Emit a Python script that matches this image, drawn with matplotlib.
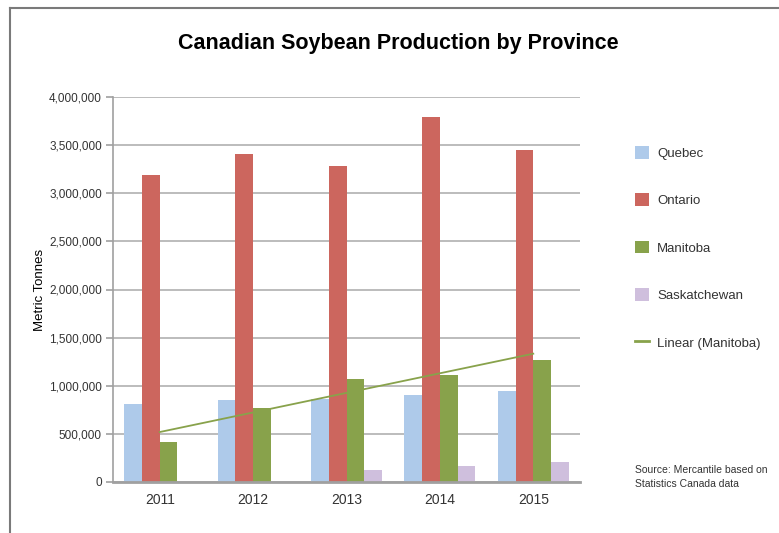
import numpy as np
import matplotlib
matplotlib.use("Agg")
from matplotlib import pyplot as plt
from matplotlib.lines import Line2D
from matplotlib.patches import Patch
from matplotlib.ticker import FuncFormatter

plt.rcParams['font.family'] = ['Liberation Sans', 'DejaVu Sans']

years = ['2011', '2012', '2013', '2014', '2015']
quebec = [810000, 850000, 860000, 900000, 945000]
ontario = [3190000, 3410000, 3280000, 3790000, 3445000]
manitoba = [420000, 765000, 1070000, 1110000, 1265000]
saskatchewan = [0, 0, 125000, 166000, 208000]

provinces = ['Quebec', 'Ontario', 'Manitoba', 'Saskatchewan']
colors = ['#aecaea', '#cc665e', '#88a24b', '#cfbfdd']
trend_color = '#88a24b'
text_color = '#333333'

fig = plt.figure(figsize=(7.79, 5.33), dpi=100)
ax = fig.add_axes([113 / 779, 1 - 482 / 533, 467 / 779, 385 / 533])

x = np.arange(len(years))
width = 0.19
series = [quebec, ontario, manitoba, saskatchewan]
for i, (vals, col) in enumerate(zip(series, colors)):
    ax.bar(x + (i - 1.5) * width, vals, width, color=col, zorder=3)

# linear trend for Manitoba
coef = np.polyfit(x, manitoba, 1)
ax.plot(x, np.polyval(coef, x), color=trend_color, lw=1.3, zorder=4)

ax.set_xlim(-0.5, 4.5)
ax.set_ylim(0, 4000000)
ax.set_yticks(np.arange(0, 4000001, 500000))
ax.yaxis.set_major_formatter(FuncFormatter(lambda v, p: f'{int(v):,}'))
ax.set_xticks(x)
ax.set_xticklabels(years)
ax.tick_params(axis='x', length=0, pad=8, labelsize=10, colors=text_color)
ax.tick_params(axis='y', length=5, width=1.2, color='#a0a0a0', labelsize=8.5, colors=text_color, pad=3)
ax.yaxis.grid(True, color='#b0b0b0', lw=1.2, zorder=0)
for s in ['top', 'right']:
    ax.spines[s].set_visible(False)
ax.spines['left'].set_color('#a0a0a0')
ax.spines['left'].set_linewidth(1.2)
ax.spines['bottom'].set_color('#a0a0a0')
ax.spines['bottom'].set_linewidth(2)
ax.spines['bottom'].set_zorder(5)

fig.text(40 / 779, 1 - 290 / 533, 'Metric Tonnes', rotation=90, ha='center', va='center',
         fontsize=9.5, color='black')
fig.text(398 / 779, 1 - 44 / 533, 'Canadian Soybean Production by Province', ha='center',
         va='center', fontsize=15.5, fontweight='bold', color='black')

handles = [Patch(facecolor=c, edgecolor='none') for c in colors]
handles.append(Line2D([0], [0], color=trend_color, lw=2))
labels = provinces + ['Linear (Manitoba)']
fig.legend(handles, labels, loc='upper left', bbox_to_anchor=(623 / 779, 1 - 134 / 533),
           frameon=False, fontsize=9.5, labelspacing=2.55, handlelength=1.1,
           handleheight=1.1, handletextpad=0.6, labelcolor=text_color)

fig.text(635 / 779, 1 - 477 / 533, 'Source: Mercantile based on\nStatistics Canada data',
         ha='left', va='center', fontsize=7.5, color=text_color, linespacing=1.6)

# outer frame (top and left edges)
fig.add_artist(Line2D([10 / 779, 10 / 779], [0, 1 - 8 / 533], color='#7a7a7a', lw=1.5))
fig.add_artist(Line2D([10 / 779, 1], [1 - 8 / 533, 1 - 8 / 533], color='#7a7a7a', lw=1.5))

fig.savefig('out.png', dpi=100)
